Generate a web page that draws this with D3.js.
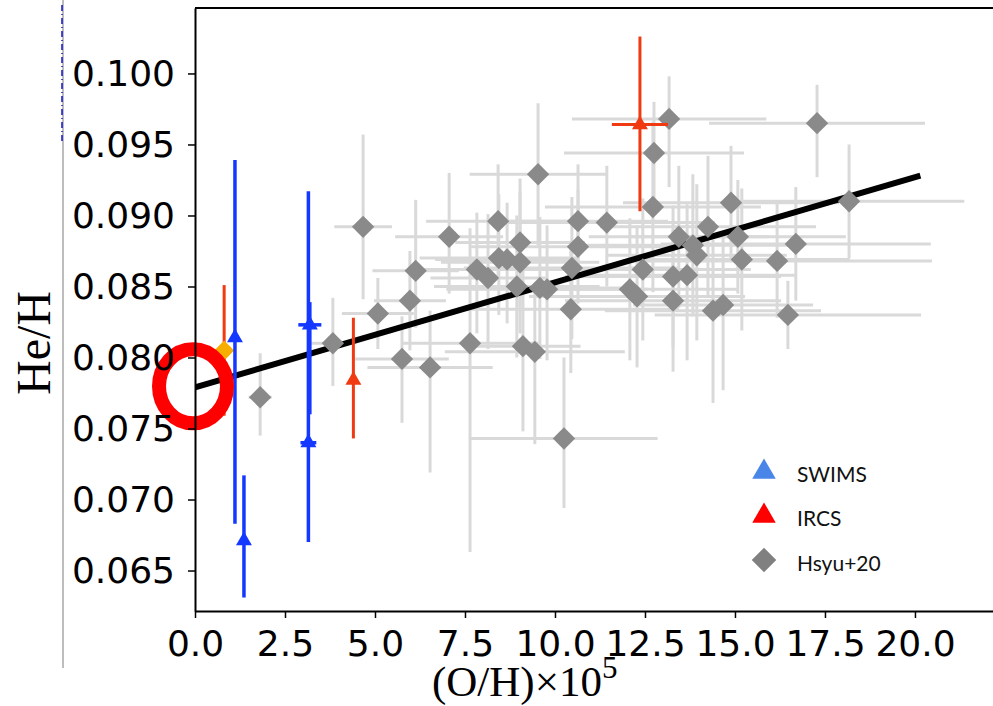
<!DOCTYPE html>
<html lang="en">
<head>
    <meta charset="UTF-8">
    <title>He/H vs O/H</title>
    <script src="https://d3js.org/d3.v7.min.js"></script>
    <style>
        body { margin: 0; background: #fff; }
    </style>
</head>
<body>
    <svg id="chart" width="993" height="706"></svg>

    <script>
        // Hsyu+20 galaxies: O/H x 1e5, He/H, symmetric x error, lower / upper y error
        const hsyuX = [1.81, 3.83, 4.67, 5.08, 5.75, 5.97, 6.13, 6.53, 7.06, 7.64, 7.83, 8.14, 8.42, 8.44, 8.67, 8.94, 9.03, 9.03,
            9.11, 9.44, 9.53, 9.58, 9.78, 10.25, 10.47, 10.44, 10.64, 10.64, 11.44, 12.08, 12.28, 12.44, 12.72, 12.75, 13.17,
            13.28, 13.28, 13.44, 13.67, 13.83, 13.94, 14.25, 14.39, 14.67, 14.89, 15.08, 15.19, 16.17, 16.47, 16.69, 17.28, 18.17];
        const hsyuY = [0.0772, 0.0810, 0.0892, 0.0831, 0.0799, 0.0840, 0.0861, 0.0793, 0.0885, 0.0810, 0.0862, 0.0856, 0.0896,
            0.0870, 0.0869, 0.0850, 0.0881, 0.0867, 0.0808, 0.0804, 0.0929, 0.0849, 0.0848, 0.0743, 0.0863, 0.0834, 0.0896,
            0.0878, 0.0895, 0.0848, 0.0843, 0.0862, 0.0906, 0.0944, 0.0968, 0.0857, 0.0840, 0.0885, 0.0858, 0.0879, 0.0872,
            0.0892, 0.0833, 0.0837, 0.0909, 0.0885, 0.0869, 0.0868, 0.0830, 0.0880, 0.0965, 0.0910];
        const hsyuXErr = [0.32, 0.6, 0.8, 1.0, 1.3, 1.0, 1.2, 1.74, 1.5, 1.9, 1.8, 1.6, 2.0, 2.2, 2.0, 2.3, 1.8, 2.2, 1.6, 2.5,
            1.9, 2.5, 2.8, 2.6, 3.0, 3.0, 2.5, 3.0, 3.0, 3.0, 3.0, 3.0, 3.0, 2.5, 2.7, 3.0, 3.0, 2.5, 3.0, 3.0, 2.5, 3.0, 3.0,
            2.5, 3.0, 3.0, 3.0, 4.3, 3.7, 3.75, 3.0, 3.2];
        const hsyuYLo = [0.0027, 0.0030, 0.0051, 0.0025, 0.0045, 0.0035, 0.0040, 0.0074, 0.0040, 0.0147, 0.0045, 0.0050, 0.0040,
            0.0040, 0.0045, 0.0050, 0.0045, 0.0050, 0.0060, 0.0065, 0.0050, 0.0050, 0.0050, 0.0049, 0.0050, 0.0045, 0.0040,
            0.0040, 0.0045, 0.0050, 0.0050, 0.0050, 0.0060, 0.0040, 0.0048, 0.0050, 0.0050, 0.0050, 0.0060, 0.0050, 0.0060,
            0.0050, 0.0065, 0.0060, 0.0040, 0.0040, 0.0050, 0.0040, 0.0024, 0.0040, 0.0038, 0.0040];
        const hsyuYHi = [0.0031, 0.0032, 0.0065, 0.0025, 0.0030, 0.0035, 0.0050, 0.0040, 0.0045, 0.0081, 0.0040, 0.0045, 0.0040,
            0.0045, 0.0040, 0.0050, 0.0045, 0.0050, 0.0055, 0.0045, 0.0050, 0.0050, 0.0045, 0.0057, 0.0050, 0.0045, 0.0040,
            0.0040, 0.0040, 0.0050, 0.0050, 0.0050, 0.0060, 0.0036, 0.0030, 0.0050, 0.0050, 0.0050, 0.0050, 0.0050, 0.0050,
            0.0050, 0.0050, 0.0050, 0.0040, 0.0040, 0.0050, 0.0040, 0.0024, 0.0040, 0.0027, 0.0040];

        // SWIMS
        const swimsX = [1.11, 1.36, 3.19, 3.15];
        const swimsY = [0.0814, 0.0671, 0.0823, 0.0740];
        const swimsXErr = [0, 0, 0.32, 0.22];
        const swimsYLo = [0.0131, 0.0040, 0.0063, 0.0070];
        const swimsYHi = [0.0125, 0.0046, 0.0016, 0.0177];

        // IRCS
        const ircsX = [4.4, 12.36];
        const ircsY = [0.0784, 0.0964];
        const ircsXErr = [0, 0.78];
        const ircsYLo = [0.0041, 0.0061];
        const ircsYHi = [0.0044, 0.0062];

        // extra point (orange) with red y error
        const extraX = [0.81];
        const extraY = [0.0805];
        const extraYErr = [0.0046];

        // fitted line end points
        const fitX = [0, 20.15];
        const fitY = [0.0779, 0.0928];

        const xTicks = [0, 2.5, 5, 7.5, 10, 12.5, 15, 17.5, 20];
        const yTicks = [0.065, 0.070, 0.075, 0.080, 0.085, 0.090, 0.095, 0.100];
        const legendLabels = ["SWIMS", "IRCS", "Hsyu+20"];

        const svg = d3.select("#chart"),
            width = +svg.attr("width"),
            height = +svg.attr("height");

        const plotLeft = 195, plotRight = 1010, plotTop = 8, plotBottom = 611;

        const x = d3.scaleLinear().domain([0, 22.64]).range([plotLeft, plotRight]);
        const y = d3.scaleLinear().domain([0.06215, 0.10461]).range([plotBottom, plotTop]);

        // stray decorations at the far left
        svg.append("line")
            .attr("x1", 63).attr("x2", 63).attr("y1", 0).attr("y2", 668)
            .attr("stroke", "#bdbdbd").attr("stroke-width", 2);
        svg.append("line")
            .attr("x1", 62).attr("x2", 62).attr("y1", 5).attr("y2", 144)
            .attr("stroke", "#1010c8").attr("stroke-width", 1.5)
            .attr("stroke-dasharray", "6 3 1 3");

        svg.append("clipPath").attr("id", "plotClip")
            .append("rect").attr("x", plotLeft).attr("y", plotTop)
            .attr("width", plotRight - plotLeft).attr("height", plotBottom - plotTop);

        const plot = svg.append("g").attr("clip-path", "url(#plotClip)");

        const hsyu = hsyuX.map((v, i) => ({x: v, y: hsyuY[i], xe: hsyuXErr[i], lo: hsyuYLo[i], hi: hsyuYHi[i]}));
        const swims = swimsX.map((v, i) => ({x: v, y: swimsY[i], xe: swimsXErr[i], lo: swimsYLo[i], hi: swimsYHi[i]}));
        const ircs = ircsX.map((v, i) => ({x: v, y: ircsY[i], xe: ircsXErr[i], lo: ircsYLo[i], hi: ircsYHi[i]}));

        function errorBars(g, data, color, w) {
            g.selectAll(null).data(data).enter().append("line")
                .attr("x1", d => x(d.x)).attr("x2", d => x(d.x))
                .attr("y1", d => y(d.y - d.lo)).attr("y2", d => y(d.y + d.hi))
                .attr("stroke", color).attr("stroke-width", w);
            g.selectAll(null).data(data.filter(d => d.xe > 0)).enter().append("line")
                .attr("x1", d => x(d.x - d.xe)).attr("x2", d => x(d.x + d.xe))
                .attr("y1", d => y(d.y)).attr("y2", d => y(d.y))
                .attr("stroke", color).attr("stroke-width", w);
        }

        const diamond = d3.symbol(d3.symbolSquare).size(250)();
        const triangle = d3.symbol(d3.symbolTriangle).size(110)();

        // Hsyu+20 error bars
        errorBars(plot.append("g"), hsyu, "#d9d9d9", 3);

        // fit line
        plot.append("line")
            .attr("x1", x(fitX[0])).attr("y1", y(fitY[0]))
            .attr("x2", x(fitX[1])).attr("y2", y(fitY[1]))
            .attr("stroke", "#000").attr("stroke-width", 6)
            .attr("stroke-linecap", "butt");

        // Hsyu+20 markers
        plot.append("g").selectAll("path").data(hsyu).enter().append("path")
            .attr("d", diamond)
            .attr("transform", d => `translate(${x(d.x)},${y(d.y)}) rotate(45)`)
            .attr("fill", "#8a8a8a");

        // extra orange point with red error
        plot.append("g").selectAll("line").data(extraX).enter().append("line")
            .attr("x1", d => x(d)).attr("x2", d => x(d))
            .attr("y1", (d, i) => y(extraY[i] - extraYErr[i]))
            .attr("y2", (d, i) => y(extraY[i] + extraYErr[i]))
            .attr("stroke", "#f03a12").attr("stroke-width", 3);
        plot.append("g").selectAll("path").data(extraX).enter().append("path")
            .attr("d", d3.symbol(d3.symbolSquare).size(200)())
            .attr("transform", (d, i) => `translate(${x(d)},${y(extraY[i])}) rotate(45)`)
            .attr("fill", "#f7ae00");

        // IRCS
        const ircsG = plot.append("g");
        errorBars(ircsG, ircs, "#f03a12", 3);
        ircsG.selectAll("path").data(ircs).enter().append("path")
            .attr("d", triangle)
            .attr("transform", d => `translate(${x(d.x)},${y(d.y)})`)
            .attr("fill", "#f03a12");

        // SWIMS
        const swimsG = plot.append("g");
        errorBars(swimsG, swims, "#1438ff", 3.5);
        swimsG.selectAll("path").data(swims).enter().append("path")
            .attr("d", triangle)
            .attr("transform", d => `translate(${x(d.x)},${y(d.y)})`)
            .attr("fill", "#1438ff");

        // red highlight ring at the intercept
        svg.append("ellipse")
            .attr("cx", x(0) - 2).attr("cy", y(fitY[0]) - 1)
            .attr("rx", 34).attr("ry", 37)
            .attr("fill", "none").attr("stroke", "#ff0000").attr("stroke-width", 14);

        // axes
        const xAxis = svg.append("g")
            .attr("transform", `translate(0,${plotBottom})`)
            .call(d3.axisBottom(x).tickValues(xTicks).tickFormat(d3.format(".1f"))
                .tickSize(7).tickPadding(12).tickSizeOuter(0));
        const yAxis = svg.append("g")
            .attr("transform", `translate(${plotLeft},0)`)
            .call(d3.axisLeft(y).tickValues(yTicks).tickFormat(d3.format(".3f"))
                .tickSize(7).tickPadding(13).tickSizeOuter(0));

        [xAxis, yAxis].forEach(a => {
            a.select(".domain").attr("stroke-width", 2);
            a.selectAll(".tick line").attr("stroke-width", 1.5);
            a.selectAll(".tick text")
                .attr("font-family", "DejaVu Sans")
                .attr("font-size", 36)
                .attr("fill", "#000");
        });

        svg.append("line")
            .attr("x1", plotLeft).attr("x2", width).attr("y1", plotTop).attr("y2", plotTop)
            .attr("stroke", "#000").attr("stroke-width", 2);

        // axis titles
        svg.append("text")
            .attr("transform", "translate(50,343) rotate(-90)")
            .attr("text-anchor", "middle")
            .attr("font-family", "Liberation Serif")
            .attr("font-size", 48)
            .text("He/H");

        const xt = svg.append("text")
            .attr("x", 432).attr("y", 696)
            .attr("font-family", "Liberation Serif")
            .attr("font-size", 43);
        xt.append("tspan").text("(O/H)×10");
        xt.append("tspan").attr("dy", -18).attr("font-size", 31).text("5");

        // legend
        const legendColors = ["#4a86e8", "#ff0000", "#808080"];
        const legendYs = [475, 519, 564];
        const legend = svg.append("g");
        legendLabels.forEach((lab, i) => {
            const sym = i < 2
                ? d3.symbol(d3.symbolTriangle).size(240)()
                : d3.symbol(d3.symbolSquare).size(300)();
            legend.append("path")
                .attr("d", sym)
                .attr("transform", `translate(764,${legendYs[i] - (i < 2 ? 3 : 4)})` + (i < 2 ? "" : " rotate(45)"))
                .attr("fill", legendColors[i]);
            legend.append("text")
                .attr("x", 797).attr("y", legendYs[i] + 7)
                .attr("font-family", "Lato")
                .attr("font-size", 21)
                .attr("fill", "#111")
                .text(lab);
        });
    </script>
</body>
</html>
